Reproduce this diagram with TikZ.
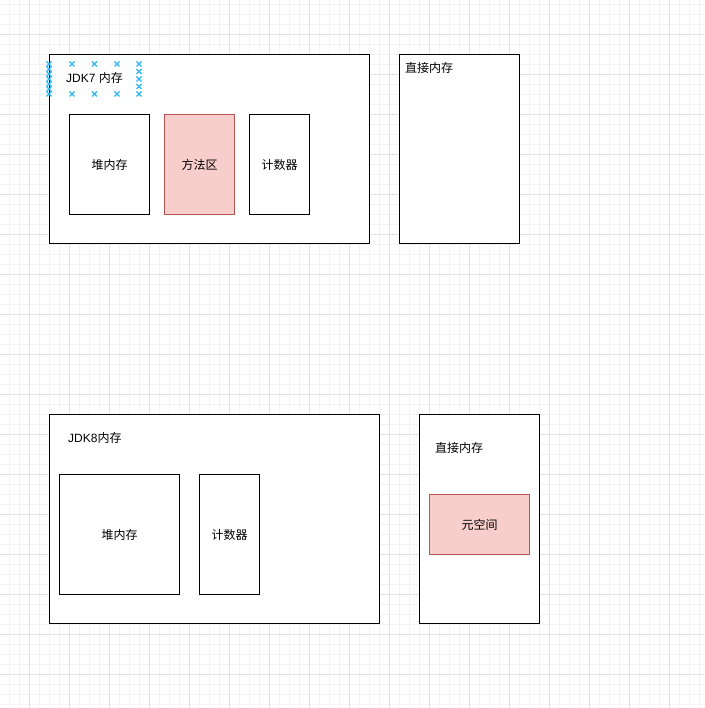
\documentclass[tikz,border=0pt]{standalone}
\usepackage{fontspec}
\setmainfont{Liberation Sans}
\newfontfamily\cjk{Noto Sans CJK SC}
\usetikzlibrary{positioning}
\definecolor{gridminor}{RGB}{243,243,243}
\definecolor{gridmajor}{RGB}{226,226,226}
\definecolor{memred}{RGB}{248,206,204}
\definecolor{memredline}{RGB}{184,84,80}
\definecolor{hoverblue}{RGB}{41,182,242}

\begin{document}
\begin{tikzpicture}[
  x=1pt, y=-1pt,
  font=\fontsize{12}{14}\selectfont,
  box/.style={draw, line width=1pt, fill=white, inner sep=0pt},
  redbox/.style={box, draw=memredline, fill=memred},
  lbl/.style={inner sep=0pt, anchor=west},
  xmk/.style={hoverblue, line width=1.2pt}
]
  \useasboundingbox (0,0) rectangle (704,708);
  \fill[white] (0,0) rectangle (704,708);

  % background grid
  \foreach \i in {0,...,69} \draw[gridminor, line width=1pt] (9.5+10*\i,0) -- (9.5+10*\i,708);
  \foreach \i in {0,...,70} \draw[gridminor, line width=1pt] (0,4.5+10*\i) -- (704,4.5+10*\i);
  \foreach \i in {0,...,17} \draw[gridmajor, line width=1pt] (29.5+40*\i,0) -- (29.5+40*\i,708);
  \foreach \i in {0,...,17} \draw[gridmajor, line width=1pt] (0,34.5+40*\i) -- (704,34.5+40*\i);

  % JDK7
  \node[box, minimum width=320pt, minimum height=189pt] (jdk7) at (209.5,149) {};
  \node[box, minimum width=80pt, minimum height=100pt] (heap7) at (109.5,164.5) {\cjk 堆内存};
  \node[redbox, minimum width=70pt, minimum height=100pt] (method7) at (199.5,164.5) {\cjk 方法区};
  \node[box, minimum width=60pt, minimum height=100pt] (counter7) at (279.5,164.5) {\cjk 计数器};
  \node[inner sep=0pt] (jdk7lbl) at (94.5,78) {JDK7 {\cjk 内存}};
  \node[box, minimum width=120pt, minimum height=189pt] (direct7) at (459.5,149) {};
  \node[lbl] (direct7lbl) at (405,68) {\cjk 直接内存};

  % hover marks around the JDK7 label
  \foreach \px/\py in {49/64,49/69,49/74,49/79,49/84,49/89,49/94,
                       72/64,94.5/64,117/64,139/64,
                       72/94,94.5/94,117/94,139/94,
                       139/71.5,139/79,139/86.5}
    \draw[xmk] (\px-2.5,\py-2.5) -- (\px+2.5,\py+2.5) (\px-2.5,\py+2.5) -- (\px+2.5,\py-2.5);

  % JDK8
  \node[box, minimum width=330pt, minimum height=209pt] (jdk8) at (214.5,519) {};
  \node[lbl] (jdk8lbl) at (68,438) {JDK8{\cjk 内存}};
  \node[box, minimum width=120pt, minimum height=120pt] (heap8) at (119.5,534.5) {\cjk 堆内存};
  \node[box, minimum width=60pt, minimum height=120pt] (counter8) at (229.5,534.5) {\cjk 计数器};
  \node[box, minimum width=120pt, minimum height=209pt] (direct8) at (479.5,519) {};
  \node[lbl] (direct8lbl) at (435,448) {\cjk 直接内存};
  \node[redbox, minimum width=100pt, minimum height=60pt] (meta8) at (479.5,524.5) {\cjk 元空间};
\end{tikzpicture}
\end{document}
